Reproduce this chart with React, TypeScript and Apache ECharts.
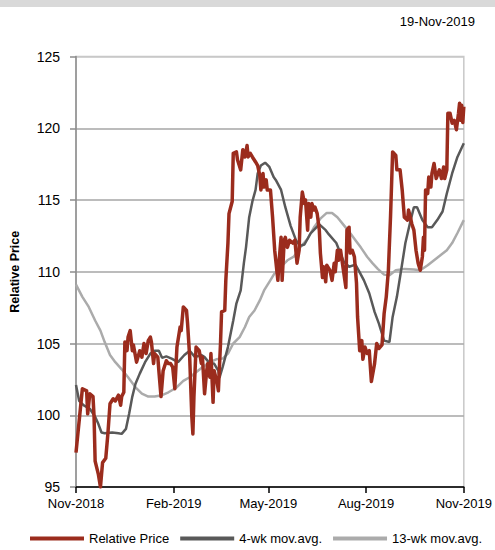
import React, { useEffect, useRef } from "react";
import * as echarts from "echarts";

// Axis: daily positions from 19-Nov-2018 (day 0) to 19-Nov-2019 (day 365)
const totalDays = 366;
const tickDays = [0, 92, 181, 273, 365];
const tickLabels = ["Nov-2018", "Feb-2019", "May-2019", "Aug-2019", "Nov-2019"];
const dateLabel = "19-Nov-2019";
const yTicks = [95, 100, 105, 110, 115, 120, 125];

// Relative Price
const priceDays = [0, 6, 10, 11, 13, 16, 17, 18, 21, 23, 25, 28, 30, 32, 35, 37, 40, 42, 43, 45, 46, 48, 49, 51, 53, 54, 57, 60, 62, 64, 66, 68, 70, 71, 73, 74, 77, 78, 80, 82, 85, 87, 89, 91, 93, 95, 98, 99, 101, 104, 105, 107, 109, 110, 111, 113, 116, 118, 119, 121, 123, 124, 126, 127, 129, 130, 133, 134, 136, 137, 140, 141, 143, 144, 147, 148, 151, 152, 155, 157, 159, 161, 162, 164, 166, 169, 171, 173, 174, 176, 177, 179, 180, 183, 185, 187, 190, 191, 193, 194, 196, 197, 199, 201, 204, 206, 208, 210, 211, 213, 215, 216, 218, 219, 221, 222, 224, 225, 227, 229, 230, 232, 233, 235, 236, 239, 241, 243, 244, 246, 247, 249, 251, 254, 255, 257, 258, 260, 262, 264, 265, 267, 269, 270, 272, 274, 276, 278, 281, 283, 285, 288, 290, 292, 294, 296, 298, 301, 302, 305, 307, 309, 312, 313, 315, 316, 318, 320, 322, 324, 326, 327, 328, 329, 331, 332, 334, 335, 337, 339, 342, 344, 346, 347, 349, 350, 352, 354, 356, 358, 360, 361, 362, 363, 364, 365];
const priceValues = [97.4, 101.85, 101.7, 100.1, 101.5, 101.3, 99.9, 96.8, 95.9, 95.0, 96.7, 97.0, 98.7, 100.8, 101.15, 101.0, 101.4, 100.7, 101.3, 101.6, 105.1, 104.5, 105.45, 105.9, 104.5, 104.9, 103.7, 104.5, 104.05, 105.0, 104.3, 105.2, 105.45, 105.1, 103.6, 104.3, 104.05, 103.1, 101.3, 103.1, 103.8, 103.6, 103.6, 103.35, 101.85, 104.75, 106.15, 105.9, 107.55, 107.3, 106.4, 104.05, 99.9, 98.7, 101.3, 104.75, 104.5, 103.6, 104.05, 101.5, 103.1, 103.6, 102.65, 104.3, 100.9, 103.1, 102.2, 101.7, 105.0, 107.2, 107.3, 109.4, 112.0, 114.05, 114.9, 118.25, 118.35, 117.8, 117.1, 118.5, 118.0, 118.8, 118.0, 118.25, 118.0, 117.65, 117.4, 116.7, 115.7, 116.85, 115.9, 116.4, 115.7, 115.7, 113.8, 111.5, 109.4, 110.6, 112.4, 109.4, 112.2, 112.4, 111.7, 112.2, 112.0, 112.2, 110.6, 111.5, 113.8, 115.55, 114.75, 115.0, 112.9, 114.75, 113.8, 114.75, 114.3, 114.5, 114.05, 112.9, 111.3, 109.6, 110.35, 109.3, 110.45, 110.1, 109.4, 110.6, 110.0, 111.5, 110.8, 111.5, 110.45, 108.9, 112.9, 113.1, 111.3, 111.5, 111.05, 109.2, 106.85, 104.5, 105.2, 103.9, 104.75, 104.3, 104.5, 102.35, 103.6, 105.0, 104.65, 104.9, 107.1, 108.25, 110.1, 113.8, 118.35, 118.1, 117.1, 117.1, 115.7, 113.8, 113.6, 114.3, 113.7, 113.35, 112.9, 111.5, 110.6, 110.1, 111.05, 112.4, 111.5, 115.7, 115.45, 116.6, 115.9, 116.85, 117.55, 116.5, 117.1, 116.5, 117.3, 116.5, 117.1, 121.05, 121.05, 120.35, 120.55, 119.9, 121.05, 121.75, 120.55, 121.6, 120.4, 121.5];

// 4-wk mov.avg.
const ma4Days = [0, 3, 7, 13, 18, 21, 24, 27, 34, 40, 43, 47, 50, 53, 56, 60, 65, 70, 74, 78, 81, 85, 90, 96, 102, 107, 112, 118, 121, 126, 130, 134, 135, 138, 143, 148, 151, 155, 158, 160, 163, 166, 169, 171, 174, 178, 182, 186, 188, 193, 197, 202, 207, 211, 215, 221, 229, 235, 238, 245, 252, 257, 263, 266, 271, 276, 281, 285, 290, 295, 298, 302, 306, 310, 315, 318, 321, 326, 331, 335, 340, 345, 349, 354, 359, 365];
const ma4Values = [102.1, 101.0, 100.7, 100.45, 99.9, 99.4, 98.8, 98.75, 98.8, 98.75, 98.7, 99.05, 100.1, 101.3, 102.2, 102.9, 103.7, 104.3, 104.5, 104.5, 104.0, 104.1, 103.95, 103.7, 104.2, 104.5, 104.05, 104.2, 104.05, 103.6, 103.6, 103.1, 102.6, 103.35, 104.75, 106.6, 107.8, 108.7, 110.6, 111.7, 113.8, 114.9, 115.7, 116.85, 117.4, 117.6, 117.3, 116.6, 116.4, 115.7, 114.5, 113.2, 112.2, 111.8, 111.9, 112.7, 113.3, 112.9, 112.6, 112.0, 110.7, 110.35, 110.5, 110.1, 109.4, 108.5, 107.2, 106.4, 105.2, 105.1, 106.85, 108.25, 110.1, 112.0, 113.6, 114.5, 114.5, 113.6, 113.1, 113.1, 113.6, 114.2, 115.45, 116.85, 118.0, 118.95];

// 13-wk mov.avg.
const ma13Days = [0, 6, 12, 18, 23, 27, 32, 37, 43, 49, 56, 62, 68, 74, 81, 87, 94, 101, 107, 113, 119, 126, 132, 138, 143, 148, 154, 159, 163, 168, 173, 177, 182, 187, 193, 199, 205, 211, 218, 224, 230, 236, 241, 246, 252, 258, 263, 268, 274, 279, 284, 290, 295, 301, 309, 318, 324, 331, 337, 343, 349, 354, 359, 365];
const ma13Values = [109.1, 108.25, 107.55, 106.6, 105.9, 105.1, 104.2, 103.7, 103.2, 102.65, 101.95, 101.5, 101.3, 101.3, 101.4, 101.6, 101.9, 102.4, 102.65, 103.0, 103.35, 103.7, 103.9, 103.95, 104.3, 105.0, 105.45, 106.15, 106.85, 107.3, 108.0, 108.7, 109.3, 109.9, 110.35, 110.8, 111.05, 111.7, 112.3, 113.1, 113.7, 114.1, 114.1, 113.8, 113.25, 112.7, 112.2, 111.7, 111.05, 110.6, 110.2, 109.8, 109.75, 110.1, 110.2, 110.15, 110.1, 110.45, 110.8, 111.15, 111.5, 112.0, 112.7, 113.6];

const FONT = "'Liberation Sans', Arial, sans-serif";

export default function App() {
  const ref = useRef<HTMLDivElement>(null);

  useEffect(() => {
    if (!ref.current) return;
    const chart = echarts.init(ref.current, null, { renderer: "svg" });
    const categories = Array.from({ length: totalDays }, (_, i) => String(i));
    const pairs = (days: number[], vals: number[]) => days.map((d, i) => [d, vals[i]]);
    const isTick = (i: number) => tickDays.includes(i);

    chart.setOption({
      animation: false,
      textStyle: { fontFamily: FONT, color: "#000" },
      graphic: [
        { type: "rect", left: 0, top: 0, shape: { width: 495, height: 7 }, style: { fill: "#d9d9d9" }, silent: true },
        {
          type: "text",
          x: 475,
          y: 21,
          style: { text: dateLabel, fontSize: 13, fontFamily: FONT, fill: "#000", align: "right", verticalAlign: "middle" },
        },
      ],
      grid: {
        left: 76,
        right: 29.5,
        top: 56.5,
        bottom: 63,
        show: true,
        borderColor: "#c8c8c8",
        borderWidth: 1.5,
        containLabel: false,
      },
      legend: {
        left: 30,
        top: 532,
        padding: 0,
        itemWidth: 54,
        itemHeight: 4,
        itemGap: 11,
        icon: "rect",
        textStyle: { fontSize: 13, fontFamily: FONT, color: "#000" },
        data: ["Relative Price", "4-wk mov.avg.", "13-wk mov.avg."],
      },
      xAxis: {
        type: "category",
        data: categories,
        boundaryGap: false,
        axisLine: { show: true, lineStyle: { color: "#000", width: 1.5 } },
        axisTick: { show: true, interval: (i: number) => isTick(i), length: 6, lineStyle: { color: "#000", width: 1.5 } },
        axisLabel: {
          interval: (i: number) => isTick(i),
          formatter: (v: string) => tickLabels[tickDays.indexOf(Number(v))] ?? "",
          fontSize: 13,
          color: "#000",
          margin: 10,
          fontFamily: FONT,
        },
        splitLine: { show: false },
      },
      yAxis: {
        type: "value",
        min: yTicks[0],
        max: yTicks[yTicks.length - 1],
        interval: 5,
        name: "Relative Price",
        nameLocation: "middle",
        nameRotate: 90,
        nameGap: 55,
        nameTextStyle: { fontSize: 12.5, fontWeight: "bold", color: "#000", fontFamily: FONT },
        axisLine: { show: true, lineStyle: { color: "#8c8c8c", width: 1.5 } },
        axisTick: { show: true, length: 6, lineStyle: { color: "#8c8c8c", width: 1.5 } },
        axisLabel: { fontSize: 14, color: "#000", margin: 16, fontFamily: FONT },
        splitLine: {
          show: true,
          lineStyle: {
            color: ["#a6a6a6", "#a6a6a6", "#a6a6a6", "#a6a6a6", "#a6a6a6", "#a6a6a6", "#c8c8c8"],
            width: 1.5,
          },
        },
      },
      series: [
        {
          name: "13-wk mov.avg.",
          type: "line",
          data: pairs(ma13Days, ma13Values),
          showSymbol: false,
          symbol: "none",
          z: 2,
          lineStyle: { color: "#ababab", width: 2.5 },
          itemStyle: { color: "#ababab" },
        },
        {
          name: "4-wk mov.avg.",
          type: "line",
          data: pairs(ma4Days, ma4Values),
          showSymbol: false,
          symbol: "none",
          z: 3,
          lineStyle: { color: "#595959", width: 2.5 },
          itemStyle: { color: "#595959" },
        },
        {
          name: "Relative Price",
          type: "line",
          data: pairs(priceDays, priceValues),
          showSymbol: false,
          symbol: "none",
          z: 4,
          lineStyle: { color: "#9b2c1d", width: 3.5, join: "round" },
          itemStyle: { color: "#9b2c1d" },
        },
      ],
    });
    return () => chart.dispose();
  }, []);

  return <div ref={ref} style={{ position: "absolute", left: 0, top: 0, width: 495, height: 550 }} />;
}
